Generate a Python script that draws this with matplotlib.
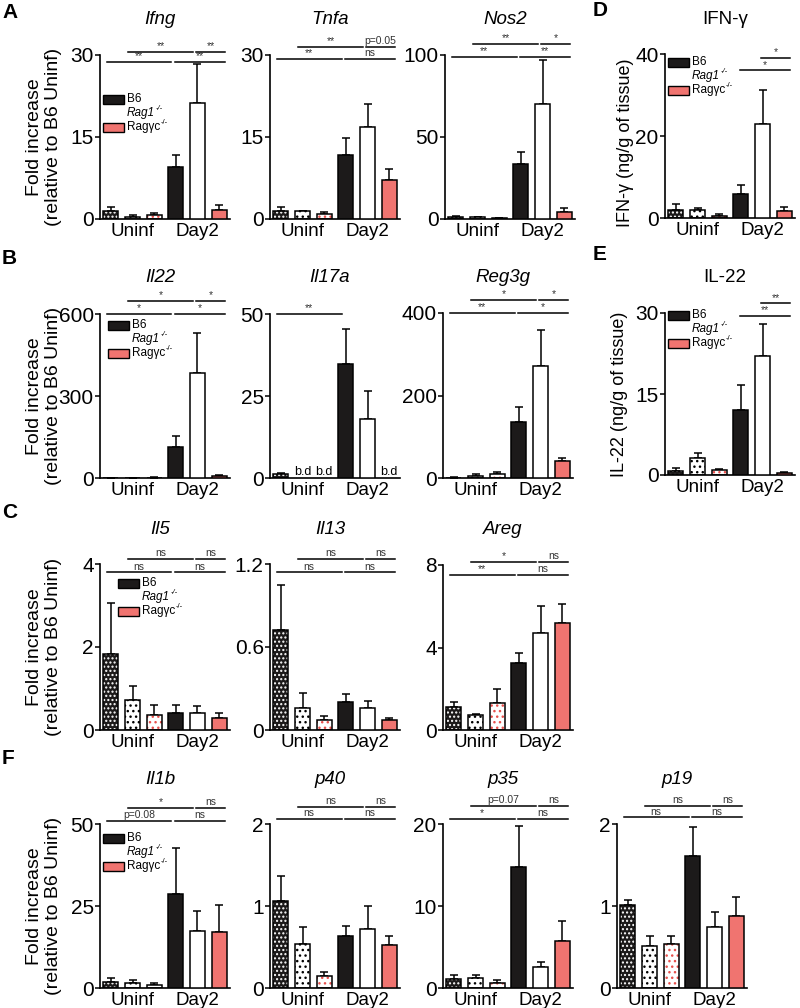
import numpy as np
import matplotlib.pyplot as plt
from matplotlib.patches import Rectangle

plt.rcParams['font.family'] = ['Liberation Sans', 'DejaVu Sans']
plt.rcParams['hatch.linewidth'] = 1.0

groups = ['Uninf', 'Day2']
strains = ['B6', 'Rag1', 'Ragγc']
strain_sup = ['', '-/-', '-/-']

# mean and SEM, order: B6, Rag1, Ragyc (Uninf) then B6, Rag1, Ragyc (Day2)
ifng = [1.4, 0.4, 0.8, 9.6, 21.3, 1.6]
ifng_err = [0.8, 0.3, 0.3, 2.1, 7.0, 0.9]
tnfa = [1.4, 1.4, 0.9, 11.7, 16.9, 7.1]
tnfa_err = [0.8, 0.1, 0.3, 3.1, 4.1, 2.1]
nos2 = [1.2, 1.0, 0.6, 33.5, 70.0, 4.3]
nos2_err = [0.4, 0.3, 0.2, 7.1, 27.0, 2.4]
ifng_prot = [2.0, 2.0, 0.6, 5.9, 23.0, 1.8]
ifng_prot_err = [1.4, 0.4, 0.4, 2.05, 8.1, 1.0]

il22 = [1.0, 0.5, 1.5, 114, 383, 8]
il22_err = [0.5, 0.3, 0.5, 41, 146, 4]
il17a = [1.1, np.nan, np.nan, 34.8, 17.9, np.nan]   # nan = below detection
il17a_err = [0.5, 0, 0, 10.5, 8.6, 0]
reg3g = [1.0, 5.6, 9.0, 136, 271.5, 41]
reg3g_err = [1.0, 3.4, 5.0, 37, 88.5, 8]
il22_prot = [0.7, 3.2, 0.9, 12.0, 22.0, 0.4]
il22_prot_err = [0.6, 0.9, 0.3, 4.6, 6.0, 0.2]

il5 = [1.82, 0.72, 0.35, 0.42, 0.40, 0.30]
il5_err = [1.23, 0.35, 0.25, 0.18, 0.18, 0.10]
il13 = [0.72, 0.16, 0.07, 0.20, 0.16, 0.07]
il13_err = [0.33, 0.105, 0.03, 0.06, 0.05, 0.02]
areg = [1.1, 0.75, 1.3, 3.27, 4.7, 5.2]
areg_err = [0.25, 0.05, 0.7, 0.45, 1.3, 0.9]

il1b = [1.8, 1.5, 1.0, 28.8, 17.5, 17.0]
il1b_err = [1.2, 0.8, 0.5, 13.9, 6.1, 8.4]
p40 = [1.06, 0.54, 0.15, 0.63, 0.72, 0.52]
p40_err = [0.31, 0.21, 0.05, 0.13, 0.28, 0.12]
p35 = [1.14, 1.2, 0.65, 14.7, 2.55, 5.76]
p35_err = [0.4, 0.34, 0.35, 5.1, 0.61, 2.39]
p19 = [1.01, 0.51, 0.54, 1.61, 0.74, 0.88]
p19_err = [0.06, 0.13, 0.09, 0.35, 0.19, 0.23]

# significance: (bar i, bar j, row 0=lower 1=upper, label)
sig_std = lambda a, b, c, d: [(0, 3, 0, a), (3, 5, 0, b), (1, 4, 1, c), (4, 5, 1, d)]
sig_ifng = sig_std('**', '**', '**', '**')
sig_tnfa = sig_std('**', 'ns', '**', 'p=0.05')
sig_nos2 = sig_std('**', '**', '**', '*')
sig_ifng_prot = [(3, 5, 0, '*'), (4, 5, 1, '*')]
sig_il22 = sig_std('*', '*', '*', '*')
sig_il17a = [(0, 3, 0, '**')]
sig_reg3g = sig_std('**', '*', '*', '*')
sig_il22_prot = [(3, 5, 0, '**'), (4, 5, 1, '**')]
sig_il5 = sig_std('ns', 'ns', 'ns', 'ns')
sig_il13 = sig_std('ns', 'ns', 'ns', 'ns')
sig_areg = sig_std('**', 'ns', '*', 'ns')
sig_il1b = sig_std('p=0.08', 'ns', '*', 'ns')
sig_p40 = sig_std('ns', 'ns', 'ns', 'ns')
sig_p35 = sig_std('*', 'ns', 'p=0.07', 'ns')
sig_p19 = sig_std('ns', 'ns', 'ns', 'ns')

W, H = 800, 1008
fig = plt.figure(figsize=(W / 100, H / 100), dpi=100)

BLACK = '#1c1a1a'
SALMON = '#f07470'
face = [BLACK, 'white', 'white', BLACK, 'white', SALMON]
hatch = ['....', '...', '...', None, None, None]
hatch_col = ['white', 'black', '#e8504c', None, None, None]


def fx(x):
    return x / W


def fy(y):
    return 1 - y / H


def panel(left, top, bottom, means, errs, yticks, ytl, sigs, levels, title, title_y, italic=True):
    ax = fig.add_axes([fx(left), fy(bottom), 130 / W, (bottom - top) / H])
    x = np.arange(6)
    for i in range(6):
        if np.isnan(means[i]):
            ax.text(x[i], 0, 'b.d', ha='center', va='bottom', fontsize=9)
            continue
        if hatch[i]:
            ax.bar(x[i], means[i], 0.7, color=face[i], edgecolor=hatch_col[i],
                   hatch=hatch[i], lw=0, zorder=2)
            ax.bar(x[i], means[i], 0.7, facecolor='none', edgecolor='black', lw=1.1, zorder=3)
        else:
            ax.bar(x[i], means[i], 0.7, color=face[i], edgecolor='black', lw=1.1, zorder=3)
        ax.errorbar(x[i], means[i], yerr=[[0], [errs[i]]], fmt='none', ecolor='black',
                    elinewidth=1.1, capsize=3.2, capthick=1.1, zorder=1)
    ymax = yticks[-1]
    ax.set_xlim(-0.5, 5.5)
    ax.set_ylim(0, ymax)
    ax.set_yticks(yticks)
    ax.set_yticklabels(ytl)
    ax.set_xticks([1, 4])
    ax.set_xticklabels(groups)
    ax.tick_params(axis='x', length=0, pad=3, labelsize=13.5)
    ax.tick_params(axis='y', length=3.5, width=1.1, pad=1, labelsize=15)
    for s in ['top', 'right']:
        ax.spines[s].set_visible(False)
    for s in ['left', 'bottom']:
        ax.spines[s].set_linewidth(1.2)
    for i, j, lv, lab in sigs:
        x0 = i - 0.2 if i < 3 else i - 0.05
        x1 = j - 0.2 if j < 5 else j + 0.25
        yl = levels[lv] * ymax
        ax.plot([x0, x1], [yl, yl], color='black', lw=1.1, clip_on=False)
        ax.annotate(lab, ((x0 + x1) / 2, yl), xytext=(0, 0.5), textcoords='offset points',
                    ha='center', va='bottom', fontsize=7.5, color='#333333', annotation_clip=False)
    fig.text(fx(left + 60), fy(title_y), title, ha='center', va='center', fontsize=13.5,
             style='italic' if italic else 'normal')
    return ax


def legend(ax, x, y):
    # B6 / Rag1 / Ragyc key, y is the centre of the B6 entry (pixels from top)
    cols = [BLACK, None, SALMON]
    for k, lab in enumerate(strains):
        yc = y + 14 * k
        if cols[k]:
            fig.add_artist(Rectangle((fx(x), fy(yc + 4.5)), 21 / W, 9 / H, transform=fig.transFigure,
                                     facecolor=cols[k], edgecolor='black', lw=1))
        st = 'italic' if k == 1 else 'normal'
        t = fig.text(fx(x + 24), fy(yc), lab, ha='left', va='center', fontsize=8.5, style=st)
        if strain_sup[k]:
            ax.annotate(strain_sup[k], xy=(1, 0.55), xycoords=t, xytext=(0.5, 0),
                        textcoords='offset points', ha='left', va='bottom', fontsize=5.5,
                        style=st, annotation_clip=False)


# row A / D
a = panel(100, 55, 219, ifng, ifng_err, [0, 15, 30], ['0', '15', '30'], sig_ifng, (0.96, 1.02), 'Ifng', 20)
legend(a, 103, 99)
panel(270, 55, 219, tnfa, tnfa_err, [0, 15, 30], ['0', '15', '30'], sig_tnfa, (0.975, 1.05), 'Tnfa', 20)
panel(445, 55, 219, nos2, nos2_err, [0, 50, 100], ['0', '50', '100'], sig_nos2, (0.99, 1.07), 'Nos2', 20)
d = panel(665, 54, 218, ifng_prot, ifng_prot_err, [0, 20, 40], ['0', '20', '40'], sig_ifng_prot,
          (0.9, 0.975), 'IFN-γ', 20, italic=False)
legend(d, 668, 62)

# row B / E
b = panel(100, 314, 478, il22, il22_err, [0, 300, 600], ['0', '300', '600'], sig_il22, (1.0, 1.08), 'Il22', 277)
legend(b, 108, 325)
panel(270, 314, 478, il17a, il17a_err, [0, 25, 50], ['0', '25', '50'], sig_il17a, (1.0, 1.08), 'Il17a', 277)
panel(443, 313, 478, reg3g, reg3g_err, [0, 200, 400], ['0', '200', '400'], sig_reg3g, (1.0, 1.08), 'Reg3g', 277)
e = panel(665, 313, 475, il22_prot, il22_prot_err, [0, 15, 30], ['0', '15', '30'], sig_il22_prot,
          (0.98, 1.06), 'IL-22', 278, italic=False)
legend(e, 668, 315)

# row C
c = panel(100, 564, 730, il5, il5_err, [0, 2, 4], ['0', '2', '4'], sig_il5, (0.95, 1.03), 'Il5', 530)
legend(c, 118, 583)
panel(270, 564, 730, il13, il13_err, [0, 0.6, 1.2], ['0', '0.6', '1.2'], sig_il13, (0.95, 1.03), 'Il13', 530)
panel(443, 565, 730, areg, areg_err, [0, 4, 8], ['0', '4', '8'], sig_areg, (0.94, 1.02), 'Areg', 530)

# row F
f = panel(100, 824, 988, il1b, il1b_err, [0, 25, 50], ['0', '25', '50'], sig_il1b, (1.02, 1.1), 'Il1b', 780)
legend(f, 103, 838)
panel(270, 824, 988, p40, p40_err, [0, 1, 2], ['0', '1', '2'], sig_p40, (1.03, 1.105), 'p40', 780)
panel(443, 824, 988, p35, p35_err, [0, 10, 20], ['0', '10', '20'], sig_p35, (1.03, 1.11), 'p35', 780)
panel(617, 824, 988, p19, p19_err, [0, 1, 2], ['0', '1', '2'], sig_p19, (1.04, 1.11), 'p19', 780)

# y labels
for yc in [137, 396, 647, 906]:
    fig.text(fx(44), fy(yc), 'Fold increase\n(relative to B6 Uninf)', rotation=90,
             ha='center', va='center', fontsize=14, linespacing=1.1)
fig.text(fx(626), fy(143), 'IFN-γ (ng/g of tissue)', rotation=90, ha='center', va='center', fontsize=13)
fig.text(fx(619), fy(394), 'IL-22 (ng/g of tissue)', rotation=90, ha='center', va='center', fontsize=13)

# panel letters
for lab, x, y in [('A', 2, 13), ('B', 2, 259), ('C', 2, 513), ('D', 593, 10), ('E', 593, 254), ('F', 2, 758)]:
    fig.text(fx(x), fy(y), lab, fontsize=15, fontweight='bold', ha='left', va='center')

fig.savefig('out.png', dpi=100)
